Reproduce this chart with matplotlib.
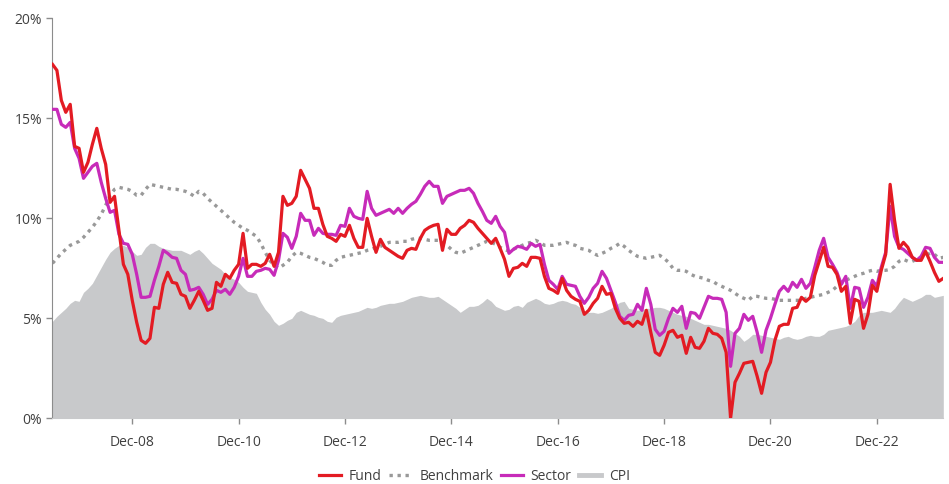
import matplotlib
matplotlib.use("Agg")
import matplotlib.pyplot as plt
import numpy as np

plt.rcParams['font.family'] = ['Open Sans', 'DejaVu Sans']

# monthly data, Jun-07 .. Mar-24 (%)
fund = [17.7, 17.4, 15.9, 15.3, 15.7, 13.6, 13.5, 12.3, 12.8, 13.7,
        14.5, 13.5, 12.7, 10.8, 11.1, 9.4, 7.7, 7.2, 5.9, 4.8,
        3.9, 3.75, 4.0, 5.55, 5.5, 6.7, 7.3, 6.8, 6.75, 6.2,
        6.1, 5.5, 5.9, 6.35, 5.9, 5.4, 5.5, 6.8, 6.6, 7.2,
        7.0, 7.4, 7.7, 9.25, 7.5, 7.7, 7.7, 7.6, 7.75, 8.2,
        7.6, 8.3, 11.1, 10.65, 10.75, 11.1, 12.4, 11.95, 11.5, 10.5,
        10.5, 9.7, 9.1, 9.0, 8.85, 9.2, 9.1, 9.65, 9.0, 8.55,
        8.55, 10.0, 9.1, 8.3, 8.95, 8.55, 8.4, 8.25, 8.1, 8.0,
        8.4, 8.5, 8.45, 9.0, 9.4, 9.55, 9.65, 9.7, 8.4, 9.45,
        9.2, 9.2, 9.5, 9.65, 9.9, 9.8, 9.5, 9.25, 9.0, 8.75,
        9.0, 8.5, 7.95, 7.1, 7.5, 7.55, 7.75, 7.6, 8.05, 8.05,
        8.0, 7.1, 6.5, 6.4, 6.25, 7.0, 6.4, 6.1, 5.95, 5.85,
        5.2, 5.4, 5.75, 6.0, 6.6, 6.2, 6.25, 5.5, 5.0, 4.75,
        4.8, 4.6, 4.85, 4.7, 5.4, 4.3, 3.3, 3.15, 3.65, 4.3,
        4.4, 4.05, 4.15, 3.25, 4.05, 3.55, 3.5, 3.85, 4.5, 4.25,
        4.2, 4.0, 3.3, 0.0, 1.8, 2.25, 2.75, 2.8, 2.85, 2.1,
        1.25, 2.3, 2.8, 3.9, 4.6, 4.7, 4.7, 5.5, 5.55, 6.05,
        5.85, 6.05, 7.15, 7.85, 8.55, 7.6, 7.55, 7.2, 6.35, 6.6,
        4.75, 5.95, 5.85, 4.5, 5.2, 6.65, 6.35, 7.4, 8.2, 11.7,
        9.9, 8.5, 8.8, 8.55, 8.05, 7.9, 7.9, 8.35, 7.85, 7.3,
        6.85, 7.0]

benchmark = [7.75, 8.0, 8.25, 8.45, 8.65, 8.75, 8.85, 9.05, 9.3, 9.55,
             9.85, 10.2, 10.65, 11.15, 11.45, 11.55, 11.5, 11.45, 11.35, 11.15,
             11.15, 11.45, 11.7, 11.65, 11.6, 11.55, 11.5, 11.45, 11.45, 11.4,
             11.35, 11.25, 11.1, 11.35, 11.25, 11.0, 10.8, 10.6, 10.4, 10.2,
             10.0, 9.8, 9.65, 9.5, 9.4, 9.25, 9.1, 8.75, 8.3, 7.9,
             7.65, 7.5, 7.65, 7.8, 8.1, 8.3, 8.25, 8.15, 8.05, 8.0,
             7.9, 7.8, 7.65, 7.65, 7.9, 8.05, 8.1, 8.15, 8.2, 8.25,
             8.3, 8.4, 8.45, 8.55, 8.6, 8.7, 8.8, 8.8, 8.8, 8.85,
             8.85, 8.95, 9.0, 9.0, 8.95, 8.9, 8.9, 8.9, 8.8, 8.65,
             8.45, 8.3, 8.25, 8.35, 8.45, 8.55, 8.65, 8.75, 8.85, 8.8,
             8.7, 8.55, 8.45, 8.35, 8.45, 8.55, 8.65, 8.75, 8.8, 8.9,
             8.8, 8.65, 8.65, 8.65, 8.7, 8.75, 8.8, 8.7, 8.65, 8.5,
             8.45, 8.4, 8.25, 8.15, 8.25, 8.35, 8.5, 8.6, 8.75, 8.6,
             8.4, 8.25, 8.1, 8.05, 8.0, 8.05, 8.1, 8.15, 8.0, 7.8,
             7.5, 7.4, 7.4, 7.35, 7.2, 7.1, 7.05, 7.0, 6.9, 6.85,
             6.7, 6.6, 6.5, 6.4, 6.25, 6.1, 6.0, 5.9, 6.1, 6.1,
             6.05, 6.0, 6.0, 5.95, 5.9, 5.9, 5.9, 5.9, 5.9, 5.9,
             6.0, 6.05, 6.1, 6.15, 6.2, 6.3, 6.4, 6.6, 6.75, 6.9,
             7.0, 7.1, 7.2, 7.25, 7.35, 7.4, 7.35, 7.4, 7.4, 7.45,
             7.6, 7.85, 7.95, 7.85, 7.85, 7.95, 8.05, 8.15, 8.25, 8.2,
             8.0, 8.05]

sector = [15.45, 15.45, 14.7, 14.55, 14.8, 13.5, 13.0, 12.0, 12.3, 12.6,
          12.75, 11.8, 11.0, 10.3, 10.4, 9.2, 8.75, 8.7, 8.2, 7.2,
          6.05, 6.05, 6.1, 6.9, 7.6, 8.4, 8.25, 8.05, 8.0, 7.4,
          7.2, 6.4, 6.45, 6.55, 6.2, 5.7, 5.95, 6.4, 6.3, 6.45,
          6.2, 6.55, 7.1, 8.0, 7.1, 7.1, 7.35, 7.4, 7.5, 7.45,
          7.15, 7.9, 9.25, 9.05, 8.5, 9.1, 10.25, 9.9, 9.9, 9.15,
          9.5, 9.25, 9.2, 9.2, 9.15, 9.65, 9.6, 10.5, 10.1, 10.0,
          9.95, 11.35, 10.5, 10.15, 10.25, 10.35, 10.45, 10.25, 10.5, 10.25,
          10.5, 10.7, 10.85, 11.2, 11.6, 11.85, 11.6, 11.6, 10.75, 11.1,
          11.2, 11.3, 11.4, 11.4, 11.5, 11.25, 10.75, 10.35, 9.9, 9.75,
          10.1, 9.6, 9.3, 8.25, 8.45, 8.6, 8.55, 8.45, 8.75, 8.6,
          8.7, 7.7, 6.9, 6.7, 6.45, 7.1, 6.7, 6.65, 6.6, 6.1,
          5.75, 6.05, 6.5, 6.75, 7.35, 7.0, 6.4, 5.8, 5.1, 4.9,
          5.15, 5.2, 5.7, 5.4, 6.5, 5.7, 4.45, 4.15, 4.35, 5.0,
          5.5, 5.3, 5.6, 4.5, 5.3, 5.25, 5.0, 5.55, 6.1, 6.0,
          6.0, 5.95, 5.3, 2.6, 4.25, 4.5, 5.2, 4.9, 5.1, 4.3,
          3.3, 4.4, 5.0, 5.7, 6.35, 6.6, 6.35, 6.8, 6.55, 6.95,
          6.5, 6.75, 7.55, 8.4, 9.0, 8.05, 7.7, 7.3, 6.7, 7.1,
          5.5, 6.55, 6.5, 5.55, 6.05, 6.9, 6.6, 7.55, 8.3, 10.6,
          9.1, 8.55, 8.45, 8.25, 8.05, 7.9, 8.1, 8.55, 8.5, 8.05,
          7.8, 7.8]

cpi = [4.85, 5.1, 5.3, 5.5, 5.75, 5.9, 5.85, 6.3, 6.5, 6.75,
       7.15, 7.55, 7.95, 8.3, 8.5, 8.65, 8.65, 8.55, 8.35, 8.15,
       8.2, 8.55, 8.75, 8.75, 8.6, 8.5, 8.45, 8.4, 8.4, 8.4,
       8.3, 8.2, 8.35, 8.45, 8.25, 8.0, 7.75, 7.6, 7.45, 7.2,
       7.05, 6.95, 6.8, 6.55, 6.35, 6.3, 6.25, 5.8, 5.45, 5.2,
       4.85, 4.65, 4.75, 4.9, 5.0, 5.3, 5.4, 5.3, 5.2, 5.15,
       5.05, 5.0, 4.85, 4.8, 5.05, 5.15, 5.2, 5.25, 5.3, 5.35,
       5.45, 5.55, 5.5, 5.55, 5.65, 5.7, 5.75, 5.75, 5.8, 5.85,
       5.95, 6.05, 6.1, 6.15, 6.1, 6.05, 6.05, 6.1, 5.95, 5.8,
       5.65, 5.5, 5.3, 5.45, 5.6, 5.6, 5.65, 5.8, 6.0, 5.85,
       5.6, 5.5, 5.4, 5.45, 5.6, 5.65, 5.55, 5.8, 5.9, 6.0,
       5.9, 5.75, 5.7, 5.75, 5.85, 5.9, 5.85, 5.75, 5.7, 5.55,
       5.35, 5.3, 5.3, 5.25, 5.3, 5.4, 5.5, 5.65, 5.8, 5.85,
       5.5, 5.45, 5.4, 5.45, 5.5, 5.5, 5.55, 5.55, 5.5, 5.4,
       5.3, 5.2, 5.15, 5.1, 5.0, 4.9, 4.8, 4.7, 4.7, 4.65,
       4.6, 4.55, 4.5, 4.4, 4.25, 4.1, 3.85, 4.0, 4.2, 4.2,
       4.15, 4.1, 4.05, 4.0, 3.95, 4.05, 4.1, 4.0, 3.95, 4.0,
       4.1, 4.15, 4.1, 4.1, 4.2, 4.4, 4.45, 4.5, 4.55, 4.6,
       4.7, 4.85, 5.15, 5.3, 5.3, 5.3, 5.35, 5.4, 5.35, 5.3,
       5.5, 5.8, 6.05, 5.95, 5.85, 5.95, 6.05, 6.2, 6.2, 6.05,
       6.1, 6.15]

tick_labels = ['Dec-08', 'Dec-10', 'Dec-12', 'Dec-14', 'Dec-16', 'Dec-18', 'Dec-20', 'Dec-22']

x = np.arange(len(fund))
tick_pos = [18 + 24 * k for k in range(len(tick_labels))]

fig = plt.figure(figsize=(9.49, 4.84), dpi=100)
ax = fig.add_axes([0.0553, 0.1357, 0.9387, 0.8264])

ax.fill_between(x, 0, cpi, color='#c8c9cb', linewidth=0, label='CPI', zorder=1)
ax.plot(x, benchmark, color='#999999', linewidth=2.4, linestyle=(0, (1, 1.4)),
        dash_capstyle='butt', label='Benchmark', zorder=2)
ax.plot(x, sector, color='#c72bb9', linewidth=2.3, label='Sector', zorder=3)
ax.plot(x, fund, color='#e31b23', linewidth=2.3, label='Fund', zorder=4)

ax.set_xlim(0, len(fund) - 1)
ax.set_ylim(0, 20)
ax.set_yticks([0, 5, 10, 15, 20])
ax.set_yticklabels(['0%', '5%', '10%', '15%', '20%'])
ax.set_xticks(tick_pos)
ax.set_xticklabels(tick_labels)

for s in ['top', 'right']:
    ax.spines[s].set_visible(False)
ax.spines['left'].set_color('#8c8c8c')
ax.spines['bottom'].set_color('#c8c9cb')
ax.tick_params(axis='both', colors='#8c8c8c', labelcolor='#404040', labelsize=10, length=4, width=1)
ax.tick_params(axis='x', pad=8)

h, l = ax.get_legend_handles_labels()
order = ['Fund', 'Benchmark', 'Sector', 'CPI']
handles = []
for name in order:
    if name == 'CPI':
        handles.append(plt.Line2D([], [], color='#c8c9cb', linewidth=3.5))
    else:
        handles.append(h[l.index(name)])
fig.legend(handles, order, loc='center', bbox_to_anchor=(0.5, 0.016), ncol=4, frameon=False,
           fontsize=10, labelcolor='#404040', handlelength=1.6, columnspacing=0.55, handletextpad=0.55)

fig.savefig('out.png', dpi=100)
